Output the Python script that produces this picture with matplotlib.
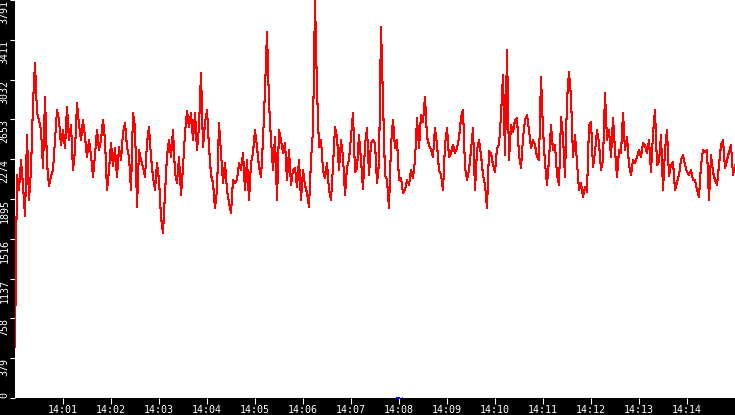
import numpy as np
import matplotlib
matplotlib.use("Agg")
import matplotlib.pyplot as plt

# readings every 2.5 s from 14:00:00 to 14:15:00
seg1 = [486, 2124, 1981, 2267, 2029, 1734, 2505, 1886, 2172, 2810, 3191, 2715, 2648, 2553, 2191,
        2867, 2238, 2019, 2114, 2172, 2457, 2743, 2648, 2410, 2553, 2381, 2772, 2457, 2600, 2172,
        2362, 2810, 2600, 2457, 2648, 2486, 2296, 2457, 2315, 2105, 2315, 2553, 2362, 2457, 2648]
seg2 = [2457, 1981, 2172, 2429, 2210, 2381, 2105, 2391, 2267, 2524, 2619, 2391, 2296, 1981, 2715,
        2581, 1819, 2362, 2267, 2200, 2105, 2429, 2581, 2296, 2105, 1981, 2238, 2076, 1724, 1572,
        1953, 2305, 2457, 2296, 2553, 2143, 2048, 2296, 1934, 2200, 2524, 2734, 2581, 2715, 2457]
seg3 = [2715, 2362, 2581, 3096, 2391, 2619, 2743, 2391, 2124, 2048, 1810, 1981, 2619, 2334, 2048,
        2238, 1981, 1857, 1762, 2076, 2048, 2076, 2238, 2172, 2334, 1981, 2267, 1886, 2238, 2334,
        2553, 2391, 2200, 2105, 2457, 2934, 3486, 2810, 2457, 2172, 2486, 1886, 2553, 2457, 2334]
seg4 = [2429, 2076, 2362, 2029, 2172, 2191, 2010, 2267, 1886, 2172, 2029, 1953, 1819, 2267, 2553,
        3791, 2934, 2391, 2457, 2172, 2095, 2238, 1981, 1886, 2210, 2581, 2486, 2172, 2457, 2296,
        1934, 2200, 2267, 2486, 2715, 2153, 2191, 2505, 2267, 1991, 2410, 2572, 2124, 2429, 2457]
seg5 = [2429, 2048, 2238, 3534, 2838, 2124, 2076, 1810, 2410, 2648, 2381, 2457, 2076, 2095, 1953,
        1981, 2076, 2029, 2172, 2095, 2267, 2667, 2381, 2696, 2629, 2867, 2486, 2410, 2362, 2296,
        2572, 2410, 2172, 2124, 1981, 2410, 2572, 2296, 2334, 2410, 2334, 2381, 2476, 2667, 2743]
seg6 = [2200, 2076, 2172, 2362, 2572, 1981, 2362, 2457, 2315, 2124, 2029, 1810, 2353, 2334, 2219,
        2153, 2381, 2410, 2696, 3077, 2315, 3315, 2267, 2600, 2534, 2648, 2667, 2315, 2191, 2476,
        2648, 2696, 2553, 2381, 2457, 2410, 2296, 2267, 3058, 2553, 2238, 2029, 2267, 2600, 2362]
seg7 = [2410, 2124, 2029, 2677, 2486, 2105, 2838, 3105, 2867, 2296, 2505, 2238, 1981, 2048, 1915,
        2010, 1962, 2600, 2629, 2200, 2343, 2553, 2429, 2172, 2267, 2905, 2457, 2553, 2296, 2667,
        2362, 2105, 2362, 2334, 2715, 2362, 2486, 2219, 2124, 2267, 2238, 2296, 2362, 2296, 2429]
seg8 = [2410, 2334, 2457, 2153, 2515, 2743, 2219, 2248, 2505, 1981, 2362, 2553, 2114, 2219, 2248,
        1981, 2057, 2124, 2267, 2315, 2219, 2153, 2124, 2172, 2076, 2076, 1981, 1915, 2219, 2362,
        2343, 2362, 1886, 2315, 2153, 2076, 2029, 2219, 2410, 2457, 2191, 2267, 2343, 2410, 2124,
        2219]

values = np.array(seg1 + seg2 + seg3 + seg4 + seg5 + seg6 + seg7 + seg8)
seconds = np.arange(len(values)) * 2.5

yticks = [0, 379, 758, 1137, 1516, 1895, 2274, 2653, 3032, 3411, 3791]
xticks = [60, 120, 180, 240, 300, 360, 420, 480, 540, 600, 660, 720, 780, 840]
xlabels = ["14:01", "14:02", "14:03", "14:04", "14:05", "14:06", "14:07",
           "14:08", "14:09", "14:10", "14:11", "14:12", "14:13", "14:14"]
# small blue marker on the base line near 14:08
mark_t = [476, 485]

W, H = 735, 415
fig = plt.figure(figsize=(W / 100, H / 100), dpi=100, facecolor="black")
ax = fig.add_axes([15 / W, 17 / H, 720 / W, 398 / H])
ax.set_facecolor("white")

ax.plot(seconds, values, color="red", lw=0.75, antialiased=False)
ax.plot(mark_t, [0, 0], color="blue", lw=1.5, ls=(0, (2, 1)), clip_on=False)

ax.set_xlim(0, 900)
ax.set_ylim(0, 3791)
for s in ax.spines.values():
    s.set_visible(False)

font = dict(family="DejaVu Sans Mono", size=7.2, color="white")
ax.set_xticks(xticks)
ax.set_xticklabels(xlabels, **font)
ax.set_yticks(yticks)
ax.set_yticklabels([str(v) for v in yticks], **font)
ax.tick_params(axis="x", colors="white", length=4.5, width=0.8, pad=0.3)
ax.tick_params(axis="y", colors="white", length=3.6, width=0.8, pad=0.3)
for lab in ax.get_yticklabels():
    lab.set_rotation(90)
    lab.set_ha("right")
    lab.set_va("top")
ax.get_yticklabels()[0].set_va("bottom")

fig.savefig("out.png", dpi=100, facecolor="black")
